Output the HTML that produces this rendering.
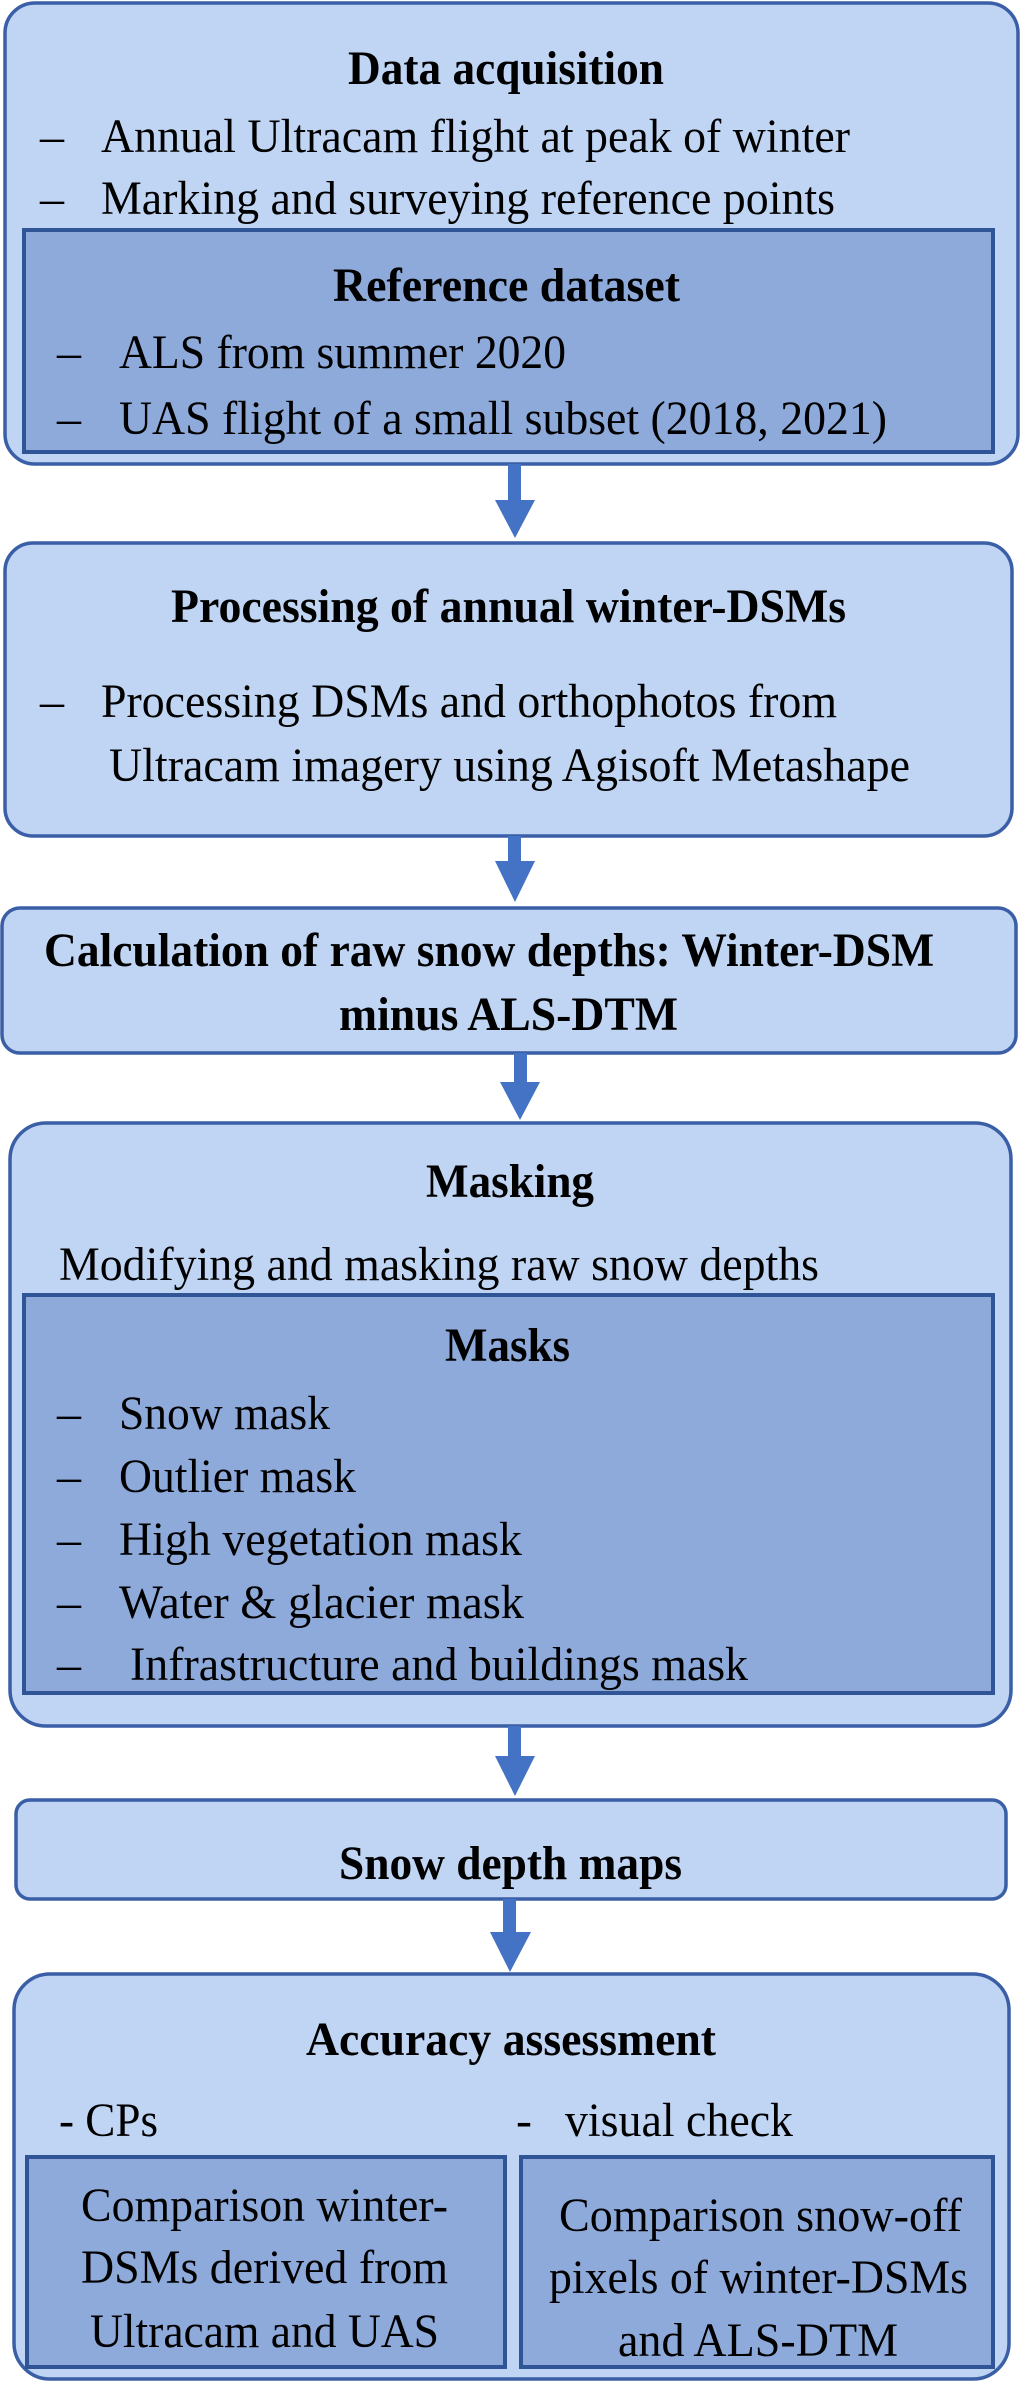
<!DOCTYPE html>
<html><head><meta charset="utf-8"><style>
html,body{margin:0;padding:0;background:#fff;}
svg{display:block;}
text{font-family:"Liberation Serif",serif;font-size:48px;fill:#000;}
.b{font-weight:bold;}
</style></head><body>
<svg width="1021" height="2382" viewBox="0 0 1021 2382" xmlns="http://www.w3.org/2000/svg">
<g stroke="#3a5fa6" stroke-width="3.5" fill="#c0d5f3">
<rect x="5" y="3" width="1013" height="461" rx="30"/>
<rect x="5" y="543" width="1007" height="293" rx="28"/>
<rect x="2" y="908" width="1014" height="145" rx="18"/>
<rect x="10" y="1123" width="1001" height="603" rx="36"/>
<rect x="16" y="1800" width="990" height="99" rx="14"/>
<rect x="14" y="1974" width="995" height="405" rx="36"/>
</g>
<g stroke="#2f5597" stroke-width="4" fill="#8eaadb">
<rect x="24" y="230" width="969" height="222"/>
<rect x="24" y="1295" width="969" height="398"/>
<rect x="27" y="2157" width="478" height="210"/>
<rect x="521" y="2157" width="472" height="210"/>
</g>
<g fill="#4472c4">
<rect x="508" y="464" width="13" height="36"/><polygon points="495,500 535,500 515,538"/>
<rect x="508" y="836" width="13" height="25"/><polygon points="495,861 535,861 515,902"/>
<rect x="514" y="1053" width="13" height="29"/><polygon points="500,1082 540,1082 520,1120"/>
<rect x="508" y="1726" width="13" height="30"/><polygon points="495,1756 535,1756 515,1796"/>
<rect x="503" y="1899" width="13" height="33"/><polygon points="490,1932 531,1932 510,1972"/>
</g>

<text class="b" x="348" y="84" textLength="316" lengthAdjust="spacingAndGlyphs">Data acquisition</text>
<text x="40" y="152">–</text>
<text x="101" y="152" textLength="749" lengthAdjust="spacingAndGlyphs">Annual Ultracam flight at peak of winter</text>
<text x="40" y="214">–</text>
<text x="101" y="214" textLength="734" lengthAdjust="spacingAndGlyphs">Marking and surveying reference points</text>
<text class="b" x="333" y="301" textLength="347" lengthAdjust="spacingAndGlyphs">Reference dataset</text>
<text x="57" y="368">–</text>
<text x="119" y="368" textLength="447" lengthAdjust="spacingAndGlyphs">ALS from summer 2020</text>
<text x="57" y="434">–</text>
<text x="119" y="434" textLength="768" lengthAdjust="spacingAndGlyphs">UAS flight of a small subset (2018, 2021)</text>

<text class="b" x="171" y="622" textLength="675" lengthAdjust="spacingAndGlyphs">Processing of annual winter-DSMs</text>
<text x="40" y="717">–</text>
<text x="101" y="717" textLength="736" lengthAdjust="spacingAndGlyphs">Processing DSMs and orthophotos from</text>
<text x="109" y="781" textLength="801" lengthAdjust="spacingAndGlyphs">Ultracam imagery using Agisoft Metashape</text>

<text class="b" x="44" y="966" textLength="890" lengthAdjust="spacingAndGlyphs">Calculation of raw snow depths: Winter-DSM</text>
<text class="b" x="339" y="1030" textLength="339" lengthAdjust="spacingAndGlyphs">minus ALS-DTM</text>

<text class="b" x="426" y="1197" textLength="168" lengthAdjust="spacingAndGlyphs">Masking</text>
<text x="59" y="1280" textLength="760" lengthAdjust="spacingAndGlyphs">Modifying and masking raw snow depths</text>
<text class="b" x="445" y="1361" textLength="125" lengthAdjust="spacingAndGlyphs">Masks</text>
<text x="57" y="1429">–</text>
<text x="119" y="1429" textLength="211" lengthAdjust="spacingAndGlyphs">Snow mask</text>
<text x="57" y="1492">–</text>
<text x="119" y="1492" textLength="237" lengthAdjust="spacingAndGlyphs">Outlier mask</text>
<text x="57" y="1555">–</text>
<text x="119" y="1555" textLength="403" lengthAdjust="spacingAndGlyphs">High vegetation mask</text>
<text x="57" y="1618">–</text>
<text x="119" y="1618" textLength="405" lengthAdjust="spacingAndGlyphs">Water &amp; glacier mask</text>
<text x="57" y="1680">–</text>
<text x="130" y="1680" textLength="618" lengthAdjust="spacingAndGlyphs">Infrastructure and buildings mask</text>

<text class="b" x="339" y="1879" textLength="343" lengthAdjust="spacingAndGlyphs">Snow depth maps</text>

<text class="b" x="306" y="2055" textLength="410" lengthAdjust="spacingAndGlyphs">Accuracy assessment</text>
<text x="59" y="2136" textLength="99" lengthAdjust="spacingAndGlyphs">- CPs</text>
<text x="516" y="2136">-</text>
<text x="565" y="2136" textLength="228" lengthAdjust="spacingAndGlyphs">visual check</text>
<text x="81" y="2221" textLength="367" lengthAdjust="spacingAndGlyphs">Comparison winter-</text>
<text x="81" y="2283" textLength="367" lengthAdjust="spacingAndGlyphs">DSMs derived from</text>
<text x="90" y="2347" textLength="349" lengthAdjust="spacingAndGlyphs">Ultracam and UAS</text>
<text x="559" y="2231" textLength="403" lengthAdjust="spacingAndGlyphs">Comparison snow-off</text>
<text x="549" y="2293" textLength="419" lengthAdjust="spacingAndGlyphs">pixels of winter-DSMs</text>
<text x="618" y="2356" textLength="280" lengthAdjust="spacingAndGlyphs">and ALS-DTM</text>
</svg>
</body></html>
